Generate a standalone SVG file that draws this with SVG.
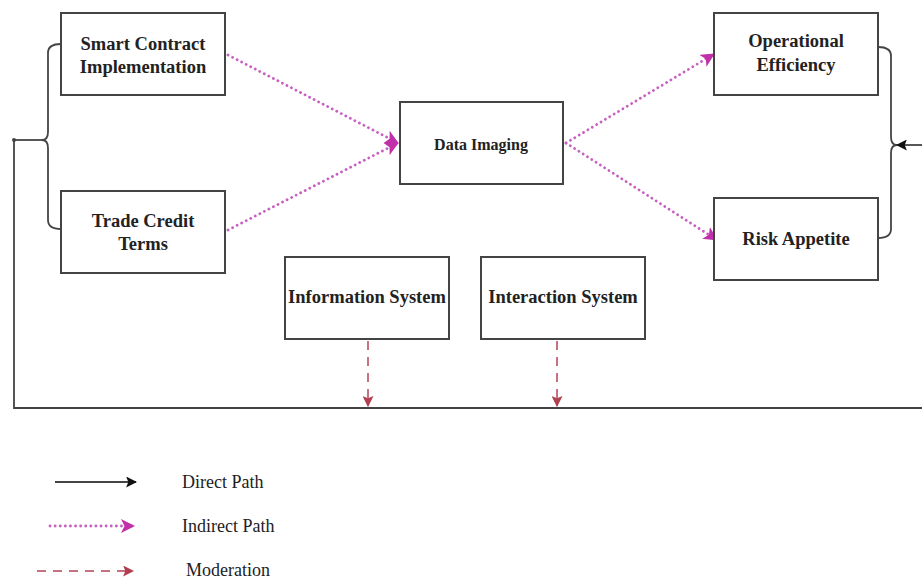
<svg xmlns="http://www.w3.org/2000/svg" width="922" height="581" viewBox="0 0 922 581">
<defs>
<style>
.box{fill:#fff;stroke:#444;stroke-width:2}
.lbl{font-weight:bold;font-size:18.5px;fill:#222;text-anchor:middle}
.leg{font-size:18px;fill:#222}
.solid{fill:none;stroke:#444;stroke-width:1.8}
.dot{fill:none;stroke:#c860c0;stroke-width:2.8;stroke-dasharray:0.1 5;stroke-linecap:round}
.dash{fill:none;stroke:#c87080;stroke-width:2;stroke-dasharray:9 7}
</style>
<marker id="mag" viewBox="0 0 14 14" refX="13" refY="7" markerWidth="14" markerHeight="14" markerUnits="userSpaceOnUse" orient="auto">
<path d="M0,0 L14,7 L0,14 L3.5,7 Z" fill="#c030a8"/>
</marker>
<marker id="red" viewBox="0 0 10 10" refX="9" refY="5" markerWidth="11" markerHeight="11" markerUnits="userSpaceOnUse" orient="auto">
<path d="M0,0 L10,5 L0,10 L2,5 Z" fill="#b04050"/>
</marker>
<marker id="blk" viewBox="0 0 10 10" refX="9" refY="5" markerWidth="11" markerHeight="11" markerUnits="userSpaceOnUse" orient="auto">
<path d="M0,0 L10,5 L0,10 L2,5 Z" fill="#111"/>
</marker>
</defs>
<rect width="922" height="581" fill="#fff"/>

<g id="connectors">
<path class="solid" d="M61,44 Q48,44 48,53 L48,132 Q48,140 42,140 Q48,140 48,148 L48,220 Q48,229 61,229"/>
<path class="solid" d="M14,140 L42,140"/>
<circle cx="14" cy="140" r="2" fill="#444"/>
<path class="solid" d="M14,140 L14,408 L922,408"/>
<path class="solid" d="M878,47 Q891,47 891,56 L891,137 Q891,145 897,145 Q891,145 891,153 L891,229 Q891,238 878,238"/>
<path class="solid" d="M922,145 L897,145" marker-end="url(#blk)"/>
<path class="dot" d="M228,55 L398,143" marker-end="url(#mag)"/>
<path class="dot" d="M228,230 L398,143" marker-end="url(#mag)"/>
<path class="dot" d="M566,143 L714,54" marker-end="url(#mag)"/>
<path class="dot" d="M566,143 L717,240" marker-end="url(#mag)"/>
<path class="dash" d="M368,341 L368,406" marker-end="url(#red)"/>
<path class="dash" d="M557,341 L557,406" marker-end="url(#red)"/>
</g>

<g id="smart-contract" font-family="'Liberation Serif', 'DejaVu Serif', serif">
<rect class="box" x="61" y="13" width="164" height="82"/>
<text class="lbl" x="143" y="50">Smart Contract</text>
<text class="lbl" x="143" y="73">Implementation</text>
</g>
<g id="trade-credit" font-family="'Liberation Serif', 'DejaVu Serif', serif">
<rect class="box" x="61" y="191" width="164" height="82"/>
<text class="lbl" x="143" y="227">Trade Credit</text>
<text class="lbl" x="143" y="250">Terms</text>
</g>
<g id="data-imaging" font-family="'Liberation Serif', 'DejaVu Serif', serif">
<rect class="box" x="400" y="102" width="163" height="82"/>
<text class="lbl" x="481" y="150" style="font-size:16px">Data Imaging</text>
</g>
<g id="operational-efficiency" font-family="'Liberation Serif', 'DejaVu Serif', serif">
<rect class="box" x="714" y="13" width="164" height="82"/>
<text class="lbl" x="796" y="47">Operational</text>
<text class="lbl" x="796" y="71">Efficiency</text>
</g>
<g id="risk-appetite" font-family="'Liberation Serif', 'DejaVu Serif', serif">
<rect class="box" x="714" y="198" width="164" height="82"/>
<text class="lbl" x="796" y="245">Risk Appetite</text>
</g>
<g id="information-system" font-family="'Liberation Serif', 'DejaVu Serif', serif">
<rect class="box" x="285" y="257" width="164" height="82"/>
<text class="lbl" x="367" y="303">Information System</text>
</g>
<g id="interaction-system" font-family="'Liberation Serif', 'DejaVu Serif', serif">
<rect class="box" x="481" y="257" width="164" height="82"/>
<text class="lbl" x="563" y="303">Interaction System</text>
</g>

<g id="legend" font-family="'Liberation Serif', 'DejaVu Serif', serif">
<path class="solid" d="M55,482 L136,482" marker-end="url(#blk)"/>
<text class="leg" x="182" y="488">Direct Path</text>
<path class="dot" d="M50,526 L134,526" marker-end="url(#mag)"/>
<text class="leg" x="182" y="532">Indirect Path</text>
<path class="dash" d="M37,571 L133,571" marker-end="url(#red)"/>
<text class="leg" x="186" y="576">Moderation</text>
</g>
</svg>
